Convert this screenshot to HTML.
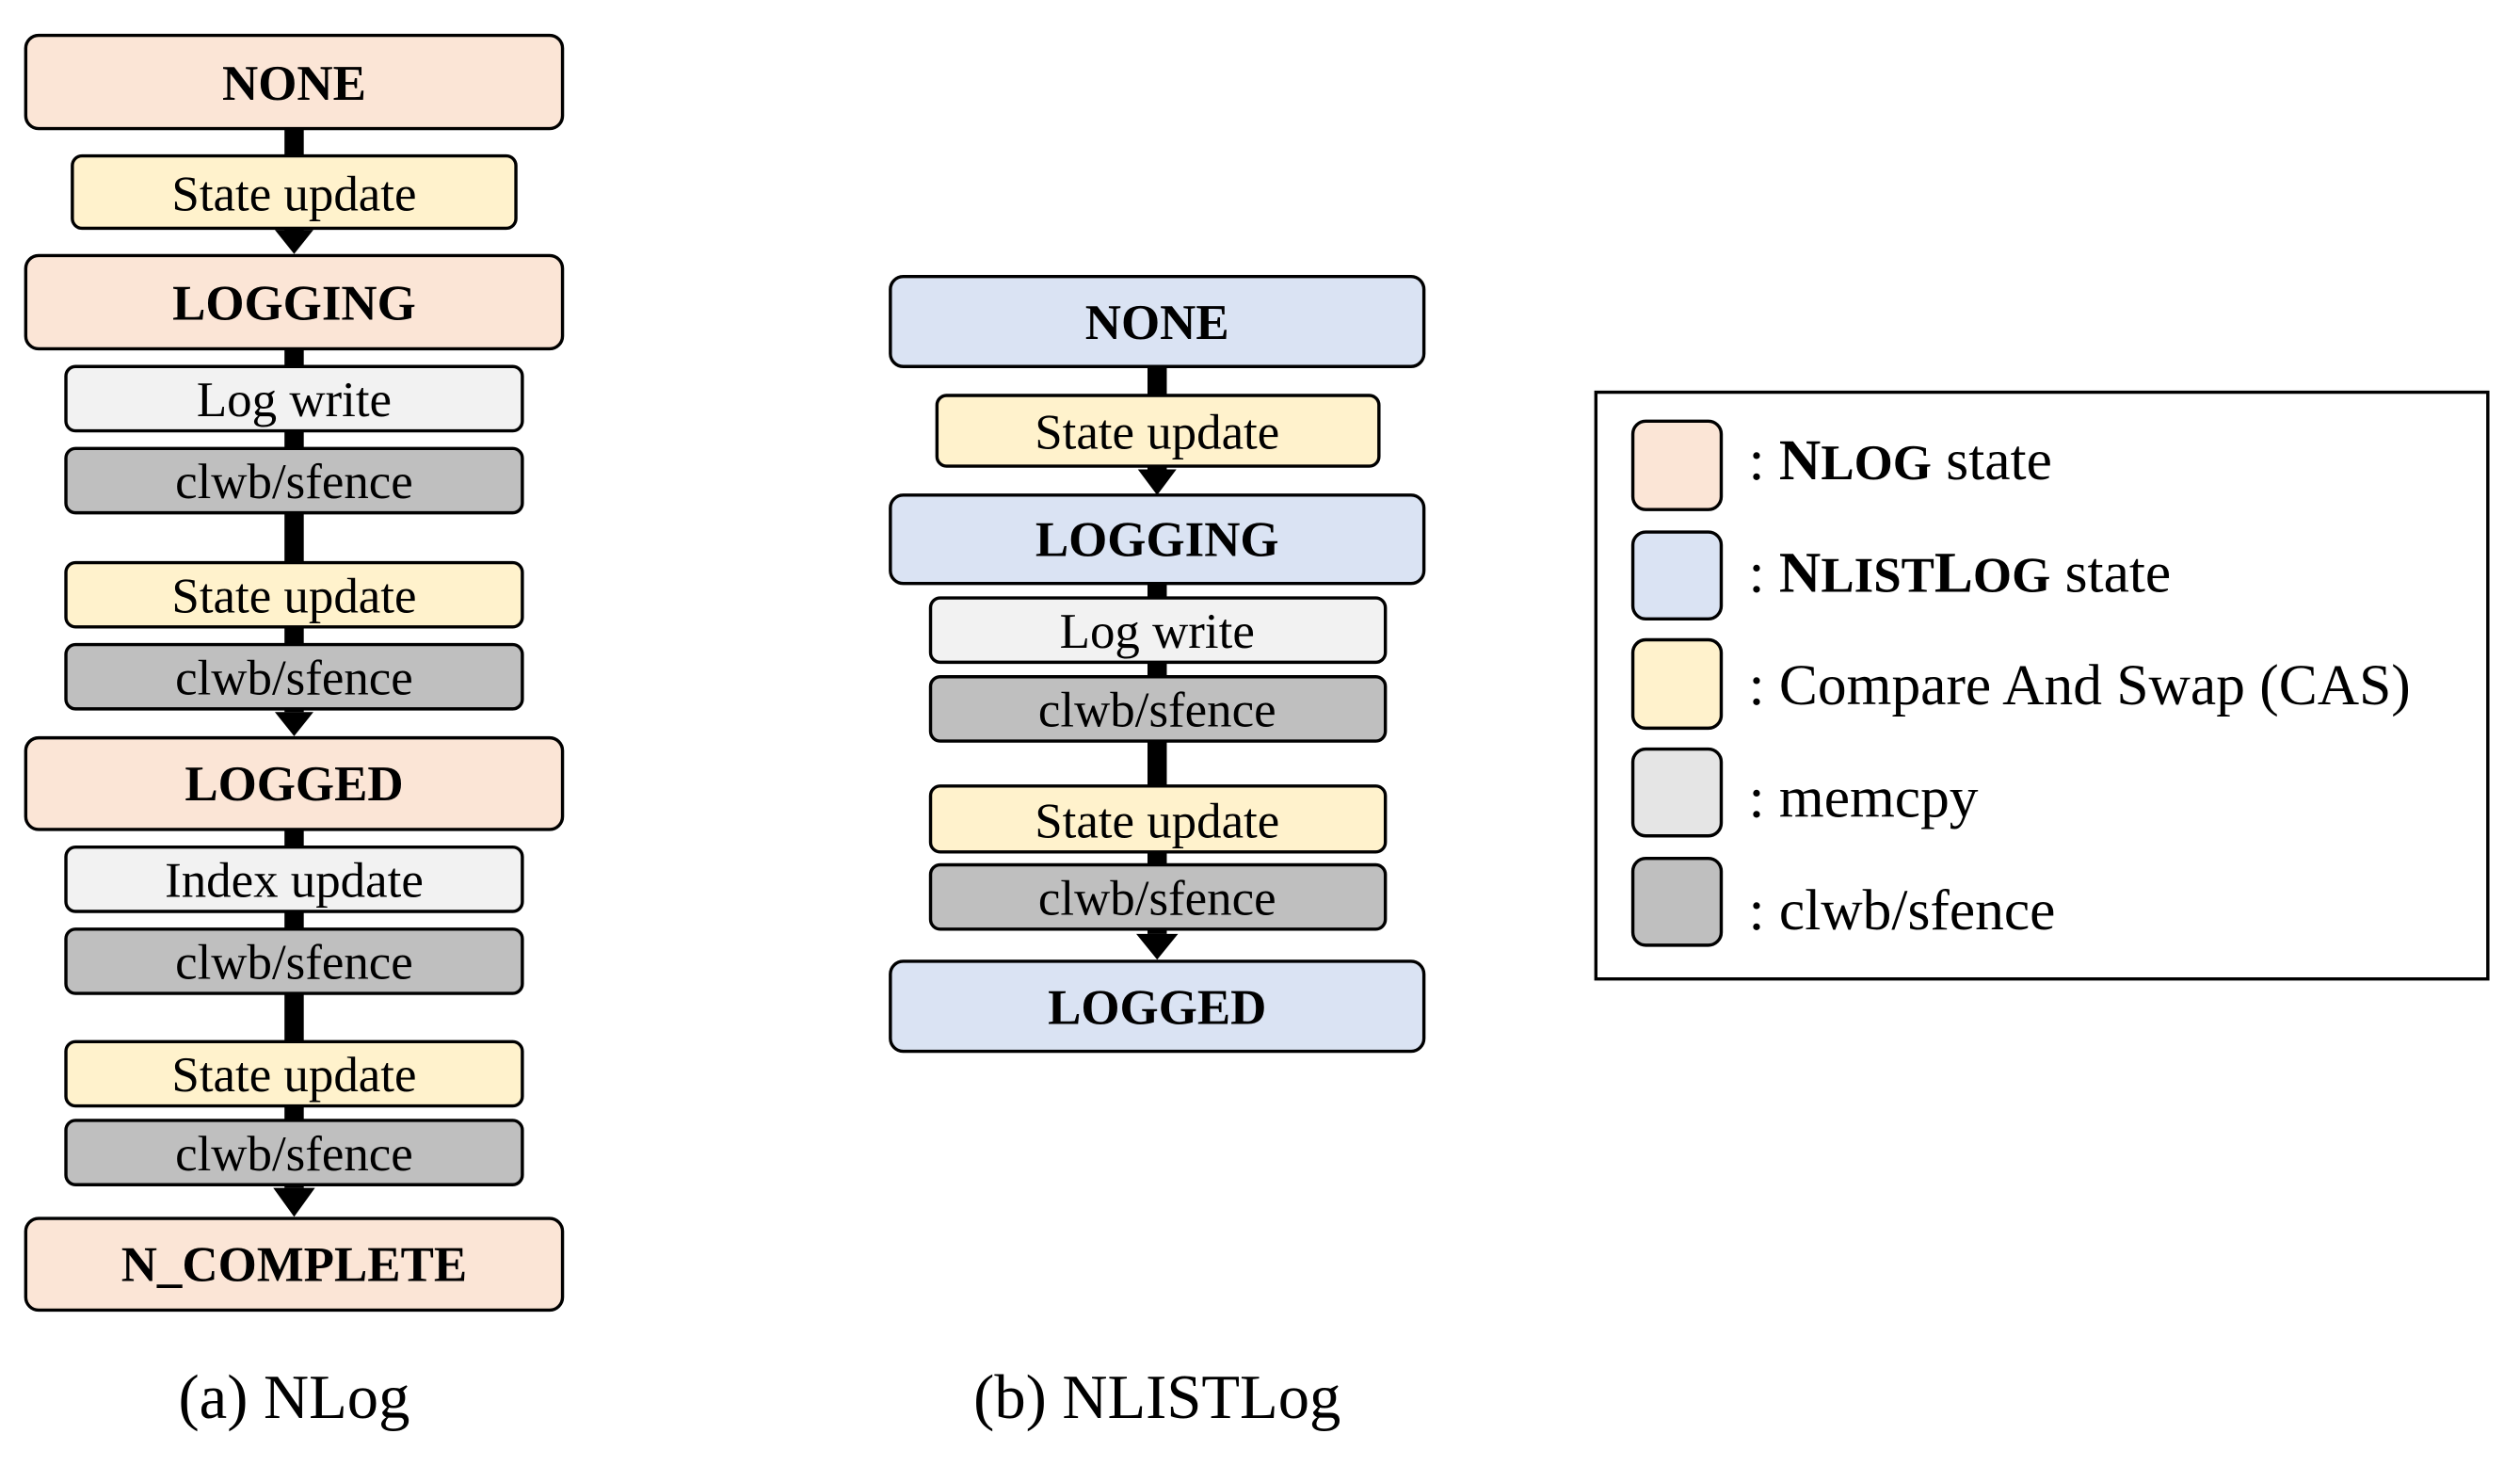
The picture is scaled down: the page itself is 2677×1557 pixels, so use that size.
<!DOCTYPE html>
<html><head><meta charset="utf-8"><style>html,body{margin:0;padding:0;background:#fff}svg{display:block}text{font-family:"Liberation Serif","Times New Roman",serif}</style></head>
<body>
<svg width="2677" height="1557" viewBox="0 0 1568 912" xmlns="http://www.w3.org/2000/svg">
<rect width="1568" height="912" fill="#fff"/>
<g fill="#000">
<rect x="177" y="80" width="12" height="65"/>
<polygon points="171,143 195,143 183,158"/>
<rect x="177" y="217" width="12" height="226"/>
<polygon points="171,443 195,443 183,458"/>
<rect x="177" y="516" width="12" height="223"/>
<polygon points="170,739 196,739 183,757"/>
<rect x="714" y="228" width="12" height="64"/>
<polygon points="708,292 732,292 720,308"/>
<rect x="714" y="363" width="12" height="218"/>
<polygon points="707,581 733,581 720,597"/>
</g>
<g stroke="#000" stroke-width="2">
<rect x="16" y="22" width="334" height="58" rx="8" fill="#fbe5d6"/>
<rect x="45" y="97" width="276" height="45" rx="6" fill="#fff2cc"/>
<rect x="16" y="159" width="334" height="58" rx="8" fill="#fbe5d6"/>
<rect x="41" y="228" width="284" height="40" rx="6" fill="#f2f2f2"/>
<rect x="41" y="279" width="284" height="40" rx="6" fill="#bfbfbf"/>
<rect x="41" y="350" width="284" height="40" rx="6" fill="#fff2cc"/>
<rect x="41" y="401" width="284" height="40" rx="6" fill="#bfbfbf"/>
<rect x="16" y="459" width="334" height="57" rx="8" fill="#fbe5d6"/>
<rect x="41" y="527" width="284" height="40" rx="6" fill="#f2f2f2"/>
<rect x="41" y="578" width="284" height="40" rx="6" fill="#bfbfbf"/>
<rect x="41" y="648" width="284" height="40" rx="6" fill="#fff2cc"/>
<rect x="41" y="697" width="284" height="40" rx="6" fill="#bfbfbf"/>
<rect x="16" y="758" width="334" height="57" rx="8" fill="#fbe5d6"/>

<rect x="554" y="172" width="332" height="56" rx="8" fill="#dae3f3"/>
<rect x="583" y="246" width="275" height="44" rx="6" fill="#fff2cc"/>
<rect x="554" y="308" width="332" height="55" rx="8" fill="#dae3f3"/>
<rect x="579" y="372" width="283" height="40" rx="6" fill="#f2f2f2"/>
<rect x="579" y="421" width="283" height="40" rx="6" fill="#bfbfbf"/>
<rect x="579" y="489" width="283" height="41" rx="6" fill="#fff2cc"/>
<rect x="579" y="538" width="283" height="40" rx="6" fill="#bfbfbf"/>
<rect x="554" y="598" width="332" height="56" rx="8" fill="#dae3f3"/>

<rect x="993" y="244" width="555" height="365" fill="#fff"/>
<rect x="1016" y="262" width="55" height="55" rx="8" fill="#fbe5d6"/>
<rect x="1016" y="331" width="55" height="54" rx="8" fill="#dae3f3"/>
<rect x="1016" y="398" width="55" height="55" rx="8" fill="#fff2cc"/>
<rect x="1016" y="466" width="55" height="54" rx="8" fill="#e5e5e5"/>
<rect x="1016" y="534" width="55" height="54" rx="8" fill="#bfbfbf"/>
</g>
<g font-size="31" text-anchor="middle" fill="#000">
<text x="183" y="62" font-weight="bold">NONE</text>
<text x="183" y="131">State update</text>
<text x="183" y="199" font-weight="bold">LOGGING</text>
<text x="183" y="259">Log write</text>
<text x="183" y="310">clwb/sfence</text>
<text x="183" y="381">State update</text>
<text x="183" y="432">clwb/sfence</text>
<text x="183" y="498" font-weight="bold">LOGGED</text>
<text x="183" y="558">Index update</text>
<text x="183" y="609">clwb/sfence</text>
<text x="183" y="679">State update</text>
<text x="183" y="728">clwb/sfence</text>
<text x="183" y="797" font-weight="bold">N_COMPLETE</text>

<text x="720" y="211" font-weight="bold">NONE</text>
<text x="720" y="279">State update</text>
<text x="720" y="346" font-weight="bold">LOGGING</text>
<text x="720" y="403">Log write</text>
<text x="720" y="452">clwb/sfence</text>
<text x="720" y="521">State update</text>
<text x="720" y="569">clwb/sfence</text>
<text x="720" y="637" font-weight="bold">LOGGED</text>

<text x="183" y="882" font-size="39">(a) NLog</text>
<text x="720" y="882" font-size="39">(b) NLISTLog</text>
</g>
<g font-size="36" fill="#000">
<text x="1088" y="298">: <tspan font-weight="bold">N<tspan font-size="31">LOG</tspan></tspan> state</text>
<text x="1088" y="368">: <tspan font-weight="bold">N<tspan font-size="31">LIST</tspan>L<tspan font-size="31">OG</tspan></tspan> state</text>
<text x="1088" y="438">: Compare And Swap (CAS)</text>
<text x="1088" y="508">: memcpy</text>
<text x="1088" y="578">: clwb/sfence</text>
</g>
</svg>
</body></html>
